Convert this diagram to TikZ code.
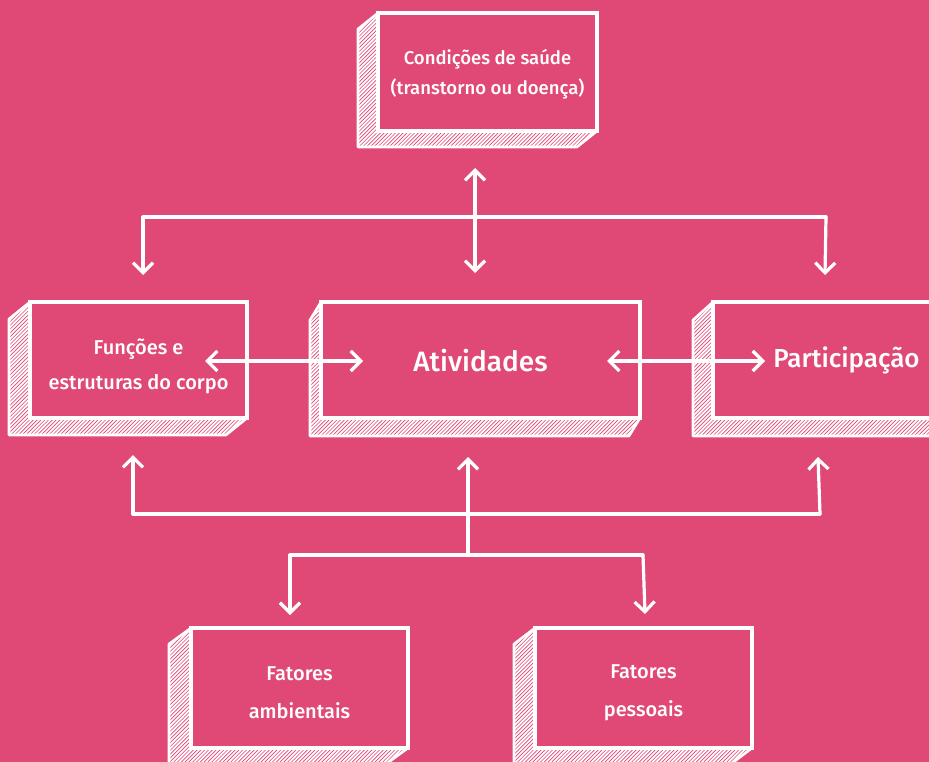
\documentclass[tikz,border=0pt]{standalone}
\usepackage{fontspec}
\setmainfont{Fira Sans}[UprightFont={* Medium}]
\usetikzlibrary{arrows.meta, calc}

\definecolor{bgpink}{RGB}{224,73,118}

\tikzset{
  card/.style={draw=white, line width=3.5pt, fill=bgpink, text=white,
    align=center, inner sep=0pt, outer sep=0pt},
  link/.style={draw=white, line width=3.2pt, line cap=round, line join=round},
  arr/.style={link, -{Straight Barb[length=10pt, width=20pt, line width=3.2pt]}},
  dblarr/.style={link, {Straight Barb[length=10pt, width=20pt, line width=3.2pt]}-{Straight Barb[length=10pt, width=20pt, line width=3.2pt]}},
  hatch/.style={white, line width=1.7pt},
  small/.style={font=\fontsize{18.5}{30}\selectfont},
  medium/.style={font=\fontsize{20}{36}\selectfont},
  big/.style={font=\fontsize{26}{30}\selectfont},
}

% pushes the first line of a card down
\newcommand{\lift}[1]{\rule{0pt}{#1}}

% hatched side and bottom behind a card
\newcommand{\cardshadow}[3]{%
  \begin{scope}
    \clip (#1.north west) -- ++(-#2,#3) -- ($(#1.south west)+(-#2,#3)$)
      -- ($(#1.south east)+(-#2,#3)$) -- (#1.south east) -- (#1.south west) -- cycle;
    \foreach \k in {0,3.8,...,700}
      \draw[hatch] ($(#1.south west)+(\k-200,#3+4)$) -- ++(170,-170);
  \end{scope}
  \draw[white, line width=2.6pt, line join=round] (#1.north west) -- ++(-#2,#3)
    -- ($(#1.south west)+(-#2,#3)$) -- ($(#1.south east)+(-#2,#3)$) -- (#1.south east);
}

\begin{document}
\begin{tikzpicture}[x=1pt, y=-1pt]
    \useasboundingbox (0,0) rectangle (929,762);
    \fill[bgpink] (0,0) rectangle (929,762);

    % cards
    \node[card, small, minimum width=219pt, minimum height=118pt] (cond) at (487.5,72)
      {\lift{20pt}Condições de saúde\\(transtorno ou doença)};
    \node[card, medium, font=\fontsize{20}{35}\selectfont, minimum width=217pt, minimum height=116pt] (func) at (138.5,360)
      {\lift{28pt}Funções e\\estruturas do corpo};
    \node[card, big, font=\fontsize{28}{30}\selectfont, minimum width=319pt, minimum height=116pt] (act) at (480.5,360)
      {\lift{23pt}Atividades};
    \node[card, big, minimum width=267pt, minimum height=116pt] (part) at (846.5,360)
      {\lift{22pt}Participação};
    \node[card, medium, font=\fontsize{20}{38}\selectfont, minimum width=217pt, minimum height=120pt] (amb) at (299.5,688)
      {\lift{23pt}Fatores\\ambientais};
    \node[card, medium, font=\fontsize{20}{38}\selectfont, minimum width=217pt, minimum height=120pt] (pes) at (643.5,688)
      {\lift{23pt}Fatores\\pessoais};

    \cardshadow{cond}{20}{16}
    \cardshadow{func}{21}{17}
    \cardshadow{act}{11}{18}
    \cardshadow{part}{20}{18}
    \cardshadow{amb}{22}{16}
    \cardshadow{pes}{21}{16}

    % upper bus
    \coordinate (tw)     at (143,217);
    \coordinate (te)     at (826,217);
    \coordinate (tw-tip) at (143,275);
    \coordinate (te-tip) at (825,275);
    \coordinate (tm-top) at (475,168);
    \coordinate (tm-bot) at (475,273);

    \draw[link] (tw) -- (te);
    \draw[arr] (tw) -- (tw-tip);
    \draw[arr] (te) -- (te-tip);
    \draw[dblarr] (tm-top) -- (tm-bot);

    % arrows between the middle cards
    \draw[dblarr] ($(func.east)+(-42,1)$) -- ($(act.west)+(42,1)$);
    \draw[dblarr] ($(act.east)+(-33,1)$) -- ($(part.west)+(52,1)$);

    % lower bus
    \coordinate (bw)     at (133,514);
    \coordinate (be)     at (820,514);
    \coordinate (bw-tip) at (133,455);
    \coordinate (be-tip) at (818,457);
    \coordinate (lm)     at (468,555);
    \coordinate (lm-tip) at (468,457);
    \coordinate (lw)     at (290,555);
    \coordinate (le)     at (643,555);
    \coordinate (lw-tip) at (290,615);
    \coordinate (le-tip) at (645,614);

    \draw[link] (bw) -- (be);
    \draw[arr] (bw) -- (bw-tip);
    \draw[arr] (be) -- (be-tip);
    \draw[arr] (lm) -- (lm-tip);
    \draw[link] (lw) -- (le);
    \draw[arr] (lw) -- (lw-tip);
    \draw[arr] (le) -- (le-tip);
\end{tikzpicture}
\end{document}
